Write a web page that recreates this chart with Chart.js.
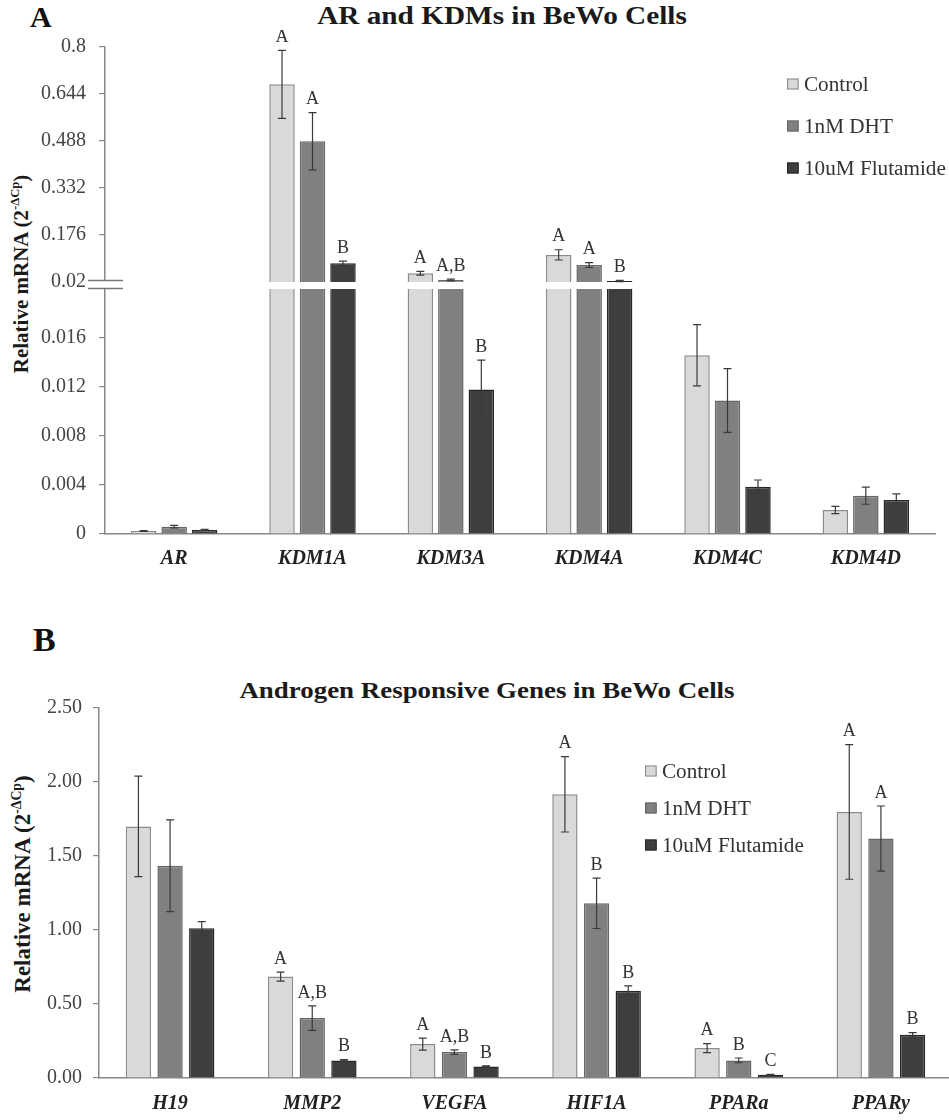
<!DOCTYPE html>
<html>
<head>
<meta charset="utf-8">
<script src="https://cdn.jsdelivr.net/npm/chart.js@4.4.1/dist/chart.umd.min.js"></script>
<style>
  html, body { margin: 0; padding: 0; background: #fff; }
  body { width: 949px; height: 1120px; position: relative; overflow: hidden;
         font-family: "Liberation Serif", "Times New Roman", serif; color: #222; }
  canvas { position: absolute; left: 0; }
  .abs { position: absolute; white-space: nowrap; }
  .panel { font-weight: bold; color: #111; transform: translateY(-50%); }
  .title { font-weight: bold; color: #1a1a1a; transform: translate(-50%, -50%) scaleX(1.17); }
  .ytitle { font-weight: bold; color: #1a1a1a; transform: translate(-50%, -50%) rotate(-90deg); }
  .ytitle sup { font-size: 0.6em; vertical-align: 0.65em; line-height: 0; }
  .leg { display: flex; align-items: center; transform-origin: left center;
         transform: translateY(-50%) scaleX(1.06); color: #333; font-size: 20px; }
  .sw { width: 11px; height: 11px; box-sizing: border-box; border: 1.2px solid; margin-right: 5px; }
</style>
</head>
<body>

<div class="abs panel" style="left:30px; top:17px; font-size:30px;">A</div>
<div class="abs title" style="left:502px; top:16px; font-size:25px;">AR and KDMs in BeWo Cells</div>
<div class="abs ytitle" style="left:21px; top:274px; font-size:21px;">Relative mRNA (2<sup>-ΔCp</sup>)</div>

<canvas id="aHigh" width="949" height="262" style="top:30px"></canvas>
<canvas id="aLow" width="949" height="310" style="top:270px"></canvas>

<div class="abs leg" style="left:787px; top:84px;"><span class="sw" style="background:#d9d9d9;border-color:#8a8a8a"></span>Control</div>
<div class="abs leg" style="left:787px; top:126px;"><span class="sw" style="background:#808080;border-color:#666"></span>1nM DHT</div>
<div class="abs leg" style="left:787px; top:168px;"><span class="sw" style="background:#3e3e3e;border-color:#262626"></span>10uM Flutamide</div>

<div class="abs panel" style="left:33px; top:640px; font-size:34px;">B</div>
<div class="abs title" style="left:487px; top:691px; font-size:23px;">Androgen Responsive Genes in BeWo Cells</div>
<div class="abs ytitle" style="left:23px; top:884px; font-size:23px;">Relative mRNA (2<sup>-ΔCp</sup>)</div>

<canvas id="bChart" width="955" height="430" style="top:690px"></canvas>

<div class="abs leg" style="left:645px; top:771px;"><span class="sw" style="background:#d9d9d9;border-color:#8a8a8a"></span>Control</div>
<div class="abs leg" style="left:645px; top:808px;"><span class="sw" style="background:#808080;border-color:#666"></span>1nM DHT</div>
<div class="abs leg" style="left:645px; top:845px;"><span class="sw" style="background:#3e3e3e;border-color:#262626"></span>10uM Flutamide</div>

<script>
// ---- Panel A: AR and KDMs ----
const genesA = ['AR', 'KDM1A', 'KDM3A', 'KDM4A', 'KDM4C', 'KDM4D'];
const controlA = [0.00024, 0.676, 0.049, 0.110, 0.0146, 0.00196];
const dhtA     = [0.0006, 0.487, 0.0266, 0.0764, 0.0109, 0.00313];
const flutA    = [0.00033, 0.082, 0.0118, 0.0233, 0.00386, 0.00278];
const controlAErr = [0.00003, 0.113, 0.006, 0.017, 0.0025, 0.0003];
const dhtAErr     = [0.0001, 0.095, 0.003, 0.008, 0.0026, 0.0007];
const flutAErr    = [0.00004, 0.007, 0.0024, 0.002, 0.00055, 0.0005];
const controlALetters = ['', 'A', 'A', 'A', '', ''];
const dhtALetters     = ['', 'A', 'A,B', 'A', '', ''];
const flutALetters    = ['', 'B', 'B', 'B', '', ''];
const upperTicksA  = [0.02, 0.176, 0.332, 0.488, 0.644, 0.8];
const upperLabelsA = ['0.02', '0.176', '0.332', '0.488', '0.644', '0.8'];
const lowerTicksA  = [0, 0.004, 0.008, 0.012, 0.016];
const lowerLabelsA = ['0', '0.004', '0.008', '0.012', '0.016'];

// ---- Panel B: androgen responsive genes ----
const genesB = ['H19', 'MMP2', 'VEGFA', 'HIF1A', 'PPARa', 'PPARy'];
const controlB = [1.70, 0.685, 0.229, 1.917, 0.202, 1.798];
const dhtB     = [1.434, 0.405, 0.175, 1.18, 0.119, 1.618];
const flutB    = [1.011, 0.119, 0.078, 0.589, 0.022, 0.292];
const controlBErr = [0.34, 0.03, 0.04, 0.255, 0.03, 0.455];
const dhtBErr     = [0.31, 0.083, 0.015, 0.17, 0.016, 0.22];
const flutBErr    = [0.045, 0.005, 0.004, 0.033, 0.003, 0.015];
const controlBLetters = ['', 'A', 'A', 'A', 'A', 'A'];
const dhtBLetters     = ['', 'A,B', 'A,B', 'B', 'B', 'A'];
const flutBLetters    = ['', 'B', 'B', 'B', 'C', 'B'];
const ticksB  = [0, 0.5, 1, 1.5, 2, 2.5];
const labelsB = ['0.00', '0.50', '1.00', '1.50', '2.00', '2.50'];

const seriesNames = ['Control', '1nM DHT', '10uM Flutamide'];
const SERIF = '"Liberation Serif", "Times New Roman", serif';
const fills   = ['#d9d9d9', '#808080', '#3e3e3e'];
const borders = ['#8a8a8a', '#666666', '#262626'];

function makeSets(values, errors, letters, skip, catPct, barPct) {
  return values.map((v, i) => ({
    label: seriesNames[i], data: v, errors: errors[i], letters: letters[i],
    backgroundColor: fills[i], borderColor: borders[i], borderWidth: 1.5,
    borderSkipped: skip, categoryPercentage: catPct, barPercentage: barPct,
    clip: 0
  }));
}

// error bars plus significance letters over each bar
const errorBars = {
  id: 'errorBars',
  afterDatasetsDraw(chart) {
    const ctx = chart.ctx, ys = chart.scales.y;
    chart.data.datasets.forEach((ds, i) => {
      chart.getDatasetMeta(i).data.forEach((bar, j) => {
        const v = ds.data[j], e = ds.errors[j];
        if (v < ys.min || v > ys.max) return;
        const x = bar.x;
        const yTop = ys.getPixelForValue(v + e);
        const yBot = ys.getPixelForValue(Math.max(v - e, ys.min));
        ctx.save();
        ctx.strokeStyle = '#3a3a3a';
        ctx.lineWidth = 1.2;
        ctx.beginPath();
        ctx.moveTo(x, yBot); ctx.lineTo(x, yTop);
        ctx.moveTo(x - 4, yTop); ctx.lineTo(x + 4, yTop);
        ctx.moveTo(x - 4, yBot); ctx.lineTo(x + 4, yBot);
        ctx.stroke();
        const t = ds.letters[j];
        if (t) {
          ctx.fillStyle = '#333';
          ctx.font = '18px ' + SERIF;
          ctx.textAlign = 'center';
          ctx.textBaseline = 'middle';
          ctx.fillText(t, x, yTop - 13);
        }
        ctx.restore();
      });
    });
  }
};

// "=" break marks where the two value ranges of panel A meet
const axisBreak = {
  id: 'axisBreak',
  afterDraw(chart) {
    const ctx = chart.ctx, x = chart.chartArea.left, top = chart.chartArea.top;
    ctx.save();
    ctx.fillStyle = '#fff';
    ctx.fillRect(x - 18, top - 8, 36, 7);
    ctx.strokeStyle = '#777';
    ctx.lineWidth = 1.5;
    ctx.beginPath();
    ctx.moveTo(x - 17, top - 8.5); ctx.lineTo(x + 18, top - 8.5);
    ctx.moveTo(x - 17, top - 0.5); ctx.lineTo(x + 18, top - 0.5);
    ctx.stroke();
    ctx.restore();
  }
};

function yAxis(min, max, tickVals, tickLabels, width, size, pad) {
  return {
    min: min, max: max, beginAtZero: false,
    afterFit(s) { s.width = width; s.paddingTop = 0; s.paddingBottom = 0; },
    afterBuildTicks(s) { s.ticks = tickVals.map(v => ({ value: v })); },
    ticks: { callback: (v, i) => tickLabels[i], font: { family: SERIF, size: size }, color: '#444', padding: pad },
    grid: { drawOnChartArea: false, drawTicks: true, tickLength: 6, color: '#888', lineWidth: 1.2 },
    border: { display: true, color: '#888', width: 1.5 }
  };
}

function xAxis(show, height, size, pad) {
  return {
    display: show,
    afterFit(s) { s.height = height; s.paddingLeft = 0; s.paddingRight = 0; },
    grid: { display: false },
    border: { display: true, color: '#888', width: 1.5 },
    ticks: { font: { family: SERIF, size: size, weight: 'bold', style: 'italic' }, color: '#222', padding: pad }
  };
}

const common = {
  responsive: false, animation: false, events: [],
  plugins: { legend: { display: false }, tooltip: { enabled: false } }
};

// Panel A upper range (0.02 – 0.8)
new Chart(document.getElementById('aHigh'), {
  type: 'bar',
  data: { labels: genesA, datasets: makeSets([controlA, dhtA, flutA], [controlAErr, dhtAErr, flutAErr], [controlALetters, dhtALetters, flutALetters], false, 0.661, 0.836) },
  options: Object.assign({}, common, {
    layout: { padding: { top: 17, right: 14, bottom: 10, left: 0 } },
    scales: { x: xAxis(false, 0, 20, 5), y: yAxis(0.02, 0.8, upperTicksA, upperLabelsA, 105, 20, 13) }
  }),
  plugins: [errorBars]
});

// Panel A lower range (0 – 0.02)
new Chart(document.getElementById('aLow'), {
  type: 'bar',
  data: { labels: genesA, datasets: makeSets([controlA, dhtA, flutA], [controlAErr, dhtAErr, flutAErr], [controlALetters, dhtALetters, flutALetters], 'start', 0.661, 0.836) },
  options: Object.assign({}, common, {
    layout: { padding: { top: 19, right: 14, bottom: 0, left: 0 } },
    scales: { x: xAxis(true, 46, 20, 5), y: yAxis(0, 0.02, lowerTicksA, lowerLabelsA, 105, 20, 13) }
  }),
  plugins: [errorBars, axisBreak]
});

// Panel B
new Chart(document.getElementById('bChart'), {
  type: 'bar',
  data: { labels: genesB, datasets: makeSets([controlB, dhtB, flutB], [controlBErr, dhtBErr, flutBErr], [controlBLetters, dhtBLetters, flutBLetters], 'start', 0.668, 0.80) },
  options: Object.assign({}, common, {
    layout: { padding: { top: 18, right: 3, bottom: 0, left: 0 } },
    scales: { x: xAxis(true, 42, 20, 6), y: yAxis(0, 2.5, ticksB, labelsB, 99, 20, 11) }
  }),
  plugins: [errorBars]
});
</script>
</body>
</html>
